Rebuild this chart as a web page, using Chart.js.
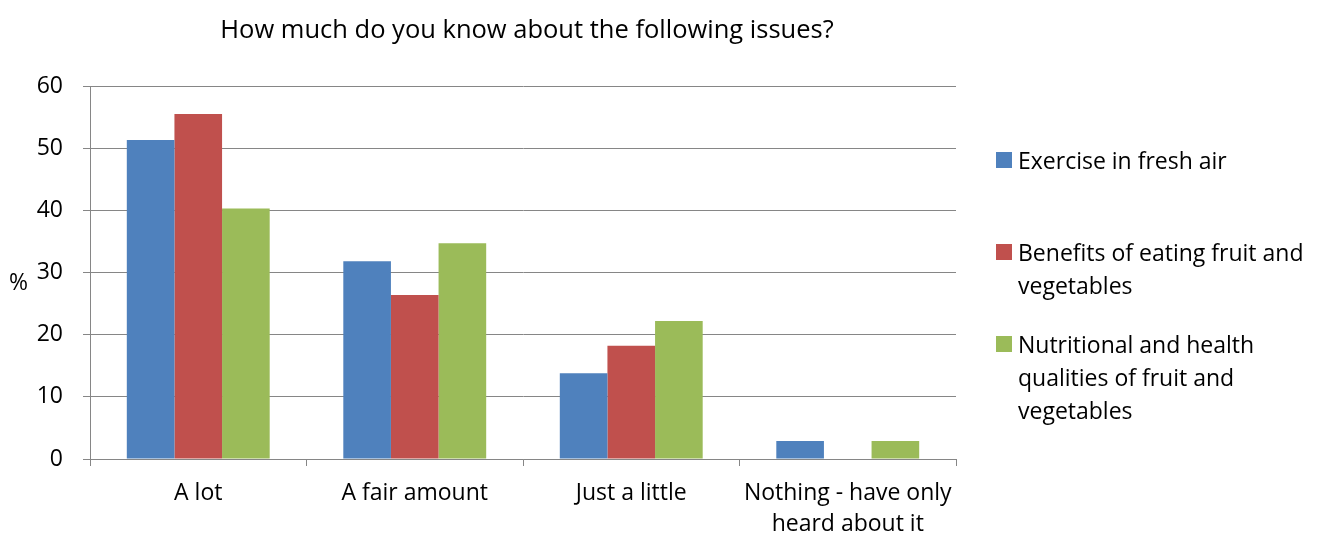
<!DOCTYPE html>
<html>
<head>
<meta charset="utf-8">
<script src="https://cdn.jsdelivr.net/npm/chart.js"></script>
<style>
    body{
        margin:0;
        background:#fff;
        font-family:"Open Sans", sans-serif;
    }
    #wrap{
        position:relative;
        width:1322px;
        height:539px;
    }
    #title{
        position:absolute;
        left:0;
        width:1054px;
        top:11px;
        text-align:center;
        font-size:25.5px;
        color:#000;
    }
    #yTitle{
        position:absolute;
        left:9px;
        top:265px;
        font-size:23px;
    }
    #legend{
        position:absolute;
        left:996px;
        top:144px;
        font-size:23px;
        line-height:33px;
    }
    .item{
        position:relative;
        padding-left:22px;
        margin-bottom:26px;
    }
    .box{
        position:absolute;
        left:0;
        top:8px;
        width:16px;
        height:16px;
    }
</style>
</head>
<body>

<div id="wrap">
    <canvas id="barChart" width="1322" height="539"></canvas>
    <div id="title">How much do you know about the following issues?</div>
    <div id="yTitle">%</div>
    <div id="legend"></div>
</div>

<script>

/*
=================================
DATA
=================================
*/

const categories = [
    "A lot",
    "A fair amount",
    "Just a little",
    ["Nothing - have only", "heard about it"]
];

const seriesNames = [
    "Exercise in fresh air",
    "Benefits of eating fruit and vegetables",
    "Nutritional and health qualities of fruit and vegetables"
];

const exerciseValues   = [51.3, 31.8, 13.8, 2.9];
const benefitsValues   = [55.5, 26.4, 18.2, 0];
const nutritionValues  = [40.3, 34.7, 22.2, 2.9];

const yTicks = [0, 10, 20, 30, 40, 50, 60];

const seriesColors = [
    "#4F81BD",
    "#C0504D",
    "#9BBB59"
];

/*
=================================
LEGEND
=================================
*/

const legendLines = [
    ["Exercise in fresh air"],
    ["Benefits of eating fruit and", "vegetables"],
    ["Nutritional and health", "qualities of fruit and", "vegetables"]
];

const legend = document.getElementById("legend");

legendLines.forEach((lines, i) => {

    const item = document.createElement("div");
    item.className = "item";

    item.innerHTML =
        '<span class="box" style="background:' + seriesColors[i] + '"></span>' +
        lines.join("<br>");

    if(i === 0){
        item.style.marginBottom = "59px";
    }

    legend.appendChild(item);
});

/*
=================================
CHART
=================================
*/

const gridColor = "#868686";
const fontFamily = "'Open Sans', sans-serif";

new Chart(document.getElementById("barChart"), {

    type:"bar",

    data:{

        labels:categories,

        datasets:[
            {
                label:seriesNames[0],
                data:exerciseValues,
                backgroundColor:seriesColors[0]
            },
            {
                label:seriesNames[1],
                data:benefitsValues,
                backgroundColor:seriesColors[1]
            },
            {
                label:seriesNames[2],
                data:nutritionValues,
                backgroundColor:seriesColors[2]
            }
        ]
    },

    options:{

        responsive:false,
        animation:false,

        datasets:{
            bar:{
                categoryPercentage:0.66,
                barPercentage:1
            }
        },

        layout:{
            padding:{
                top:86,
                right:366,
                bottom:0,
                left:0
            }
        },

        plugins:{
            legend:{ display:false },
            tooltip:{ enabled:false }
        },

        scales:{

            x:{
                afterFit:scale => { scale.height = 80; },
                border:{ color:gridColor, width:1 },
                grid:{
                    offset:true,
                    drawOnChartArea:false,
                    color:gridColor,
                    tickLength:7
                },
                ticks:{
                    color:"#000",
                    padding:12,
                    font:{ family:fontFamily, size:23, lineHeight:1.35 }
                }
            },

            y:{
                min:0,
                max:60,
                afterFit:scale => { scale.width = 90; },
                afterBuildTicks:scale => {
                    scale.ticks = yTicks.map(v => ({ value:v }));
                },
                border:{ color:gridColor, width:1 },
                grid:{
                    color:gridColor,
                    tickLength:7
                },
                ticks:{
                    color:"#000",
                    padding:20,
                    font:{ family:fontFamily, size:23 }
                }
            }
        }
    }
});

</script>
</body>
</html>
